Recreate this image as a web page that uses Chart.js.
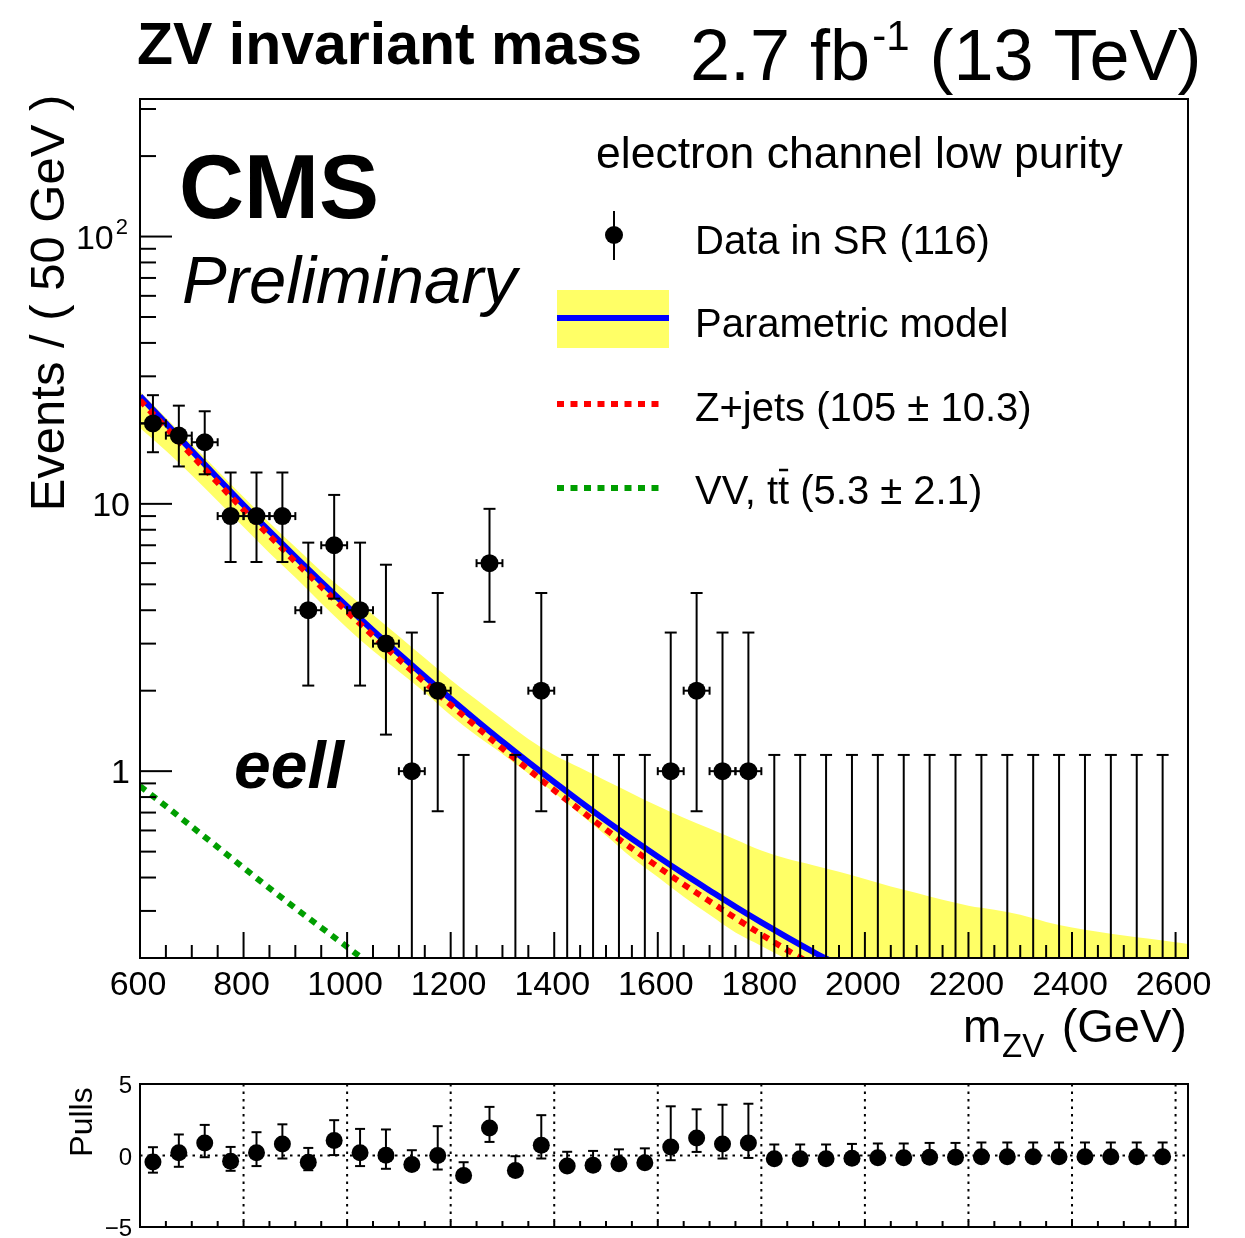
<!DOCTYPE html>
<html>
<head>
<meta charset="utf-8">
<title>ZV invariant mass</title>
<script src="https://cdn.jsdelivr.net/npm/chart.js@4.4.0/dist/chart.umd.min.js"></script>
<style>
  body { margin: 0; background: #fff; }
  #wrap { position: relative; width: 1245px; height: 1238px; overflow: hidden; background: #fff; }
  canvas { position: absolute; left: 0; }
</style>
</head>
<body>
<div id="wrap">
  <canvas id="mainChart" width="1245" height="1060" style="top:0"></canvas>
  <canvas id="pullChart" width="1245" height="178" style="top:1060px"></canvas>
</div>
<script>
// データ (GeV, events / 50 GeV)
const binCenters = [625, 675, 725, 775, 825, 875, 925, 975, 1025, 1075,
  1125, 1175, 1225, 1275, 1325, 1375, 1425, 1475, 1525, 1575,
  1625, 1675, 1725, 1775, 1825, 1875, 1925, 1975, 2025, 2075,
  2125, 2175, 2225, 2275, 2325, 2375, 2425, 2475, 2525, 2575];
const counts = [20, 18, 17, 9, 9, 9, 4, 7, 4, 3,
  1, 2, 0, 6, 0, 2, 0, 0, 0, 0,
  1, 2, 1, 1, 0, 0, 0, 0, 0, 0,
  0, 0, 0, 0, 0, 0, 0, 0, 0, 0];
// error bar ends
const errLow = [15.6, 13.8, 12.9, 6.06, 6.06, 6.06, 2.09, 4.42, 2.09, 1.37,
  0.173, 0.708, 0, 3.62, 0, 0.708, 0, 0, 0, 0,
  0.173, 0.708, 0.173, 0.173, 0, 0, 0, 0, 0, 0,
  0, 0, 0, 0, 0, 0, 0, 0, 0, 0];
const errHigh = [25.5, 23.3, 22.2, 13.1, 13.1, 13.1, 7.16, 10.8, 7.16, 5.92,
  3.30, 4.64, 1.15, 9.58, 1.15, 4.64, 1.15, 1.15, 1.15, 1.15,
  3.30, 4.64, 3.30, 3.30, 1.15, 1.15, 1.15, 1.15, 1.15, 1.15,
  1.15, 1.15, 1.15, 1.15, 1.15, 1.15, 1.15, 1.15, 1.15, 1.15];

// fit curves
const curveMass = [600, 650, 700, 750, 800, 850, 900, 950, 1000, 1050,
  1100, 1150, 1200, 1250, 1300, 1350, 1400, 1450, 1500, 1550,
  1600, 1650, 1700, 1750, 1800, 1850, 1900, 1950, 2000];
const modelTotal = [25.3, 20.0, 15.8, 12.5, 9.9, 7.9, 6.33, 5.1, 4.13, 3.36,
  2.75, 2.26, 1.865, 1.547, 1.289, 1.08, 0.909, 0.769, 0.653, 0.558,
  0.479, 0.413, 0.358, 0.311, 0.272, 0.239, 0.211, 0.1875, 0.166];
const zjets = [24.4, 19.3, 15.2, 12.0, 9.5, 7.6, 6.07, 4.89, 3.95, 3.21,
  2.62, 2.15, 1.77, 1.465, 1.215, 1.014, 0.848, 0.715, 0.604, 0.514,
  0.439, 0.377, 0.326, 0.282, 0.245, 0.214, 0.188, 0.165, 0.146];
const vvMass = [600, 650, 700, 750, 800, 850, 900, 950, 1000, 1050, 1100];
const vvTT = [0.88, 0.74, 0.62, 0.52, 0.435, 0.365, 0.307, 0.26, 0.22, 0.186, 0.158];

// uncertainty band
const bandMass = [600, 650, 700, 750, 800, 850, 900, 950, 1000, 1050,
  1100, 1150, 1200, 1250, 1300, 1350, 1400, 1450, 1500, 1550,
  1600, 1650, 1700, 1750, 1800, 1850, 1900, 1950, 2000, 2050,
  2100, 2150, 2200, 2250, 2300, 2350, 2400, 2450, 2500, 2550,
  2600, 2650];
const bandHigh = [26.3, 21.0, 16.7, 13.3, 10.6, 8.5, 6.9, 5.6, 4.65, 3.85,
  3.2, 2.65, 2.2, 1.85, 1.56, 1.32, 1.15, 1.03, 0.92, 0.825,
  0.74, 0.67, 0.61, 0.555, 0.505, 0.47, 0.445, 0.42, 0.395, 0.37,
  0.35, 0.33, 0.314, 0.303, 0.29, 0.273, 0.26, 0.251, 0.243, 0.236,
  0.229, 0.222];
const bandLow = [19.2, 15.8, 12.8, 10.25, 8.2, 6.55, 5.3, 4.25, 3.43, 2.82,
  2.36, 1.97, 1.62, 1.36, 1.16, 0.98, 0.83, 0.69, 0.575, 0.474,
  0.402, 0.339, 0.29, 0.249, 0.222, 0.197, 0.169, 0.15, 0.15, 0.15,
  0.15, 0.15, 0.15, 0.15, 0.15, 0.15, 0.15, 0.15, 0.15, 0.15,
  0.15, 0.15];

// pulls
const pulls = [-0.45, 0.19, 0.88, -0.40, 0.19, 0.81, -0.47, 1.05, 0.19, 0.02,
  -0.63, 0.0, -1.40, 1.93, -1.05, 0.72, -0.74, -0.68, -0.57, -0.50,
  0.60, 1.23, 0.81, 0.88, -0.23, -0.23, -0.23, -0.19, -0.16, -0.16,
  -0.12, -0.12, -0.09, -0.09, -0.09, -0.09, -0.09, -0.09, -0.09, -0.09];
const pullUp = [1.03, 1.28, 1.26, 1.0, 1.44, 1.37, 1.0, 1.42, 1.67, 1.8,
  1.0, 2.05, 0.93, 1.47, 1.0, 2.1, 1.0, 1.0, 1.0, 1.0,
  2.84, 2.0, 2.74, 2.74, 1.0, 1.0, 1.0, 1.0, 1.0, 1.0,
  1.0, 1.0, 1.0, 1.0, 1.0, 1.0, 1.0, 1.0, 1.0, 1.0];
const pullDown = [0.75, 0.98, 1.0, 0.67, 0.93, 1.02, 0.56, 1.02, 0.93, 0.95,
  0.36, 0.98, 0, 0.98, 0, 0.93, 0, 0, 0, 0,
  0.93, 0.98, 1.02, 1.05, 0, 0, 0, 0, 0, 0,
  0, 0, 0, 0, 0, 0, 0, 0, 0, 0];

// 軸
const xTickLabels = [600, 800, 1000, 1200, 1400, 1600, 1800, 2000, 2200, 2400, 2600];
const yTickLabels = [1, 10, 100];
const pullTickLabels = [5, 0, -5];

const FONT = '"Liberation Sans", Arial, Helvetica, sans-serif';
const YELLOW = '#ffff66';
const BLUE = '#0000ff';
const RED = '#ff0000';
const GREEN = '#009e00';
const DOT = [7, 6.5];

function seg(ctx, x1, y1, x2, y2) {
  ctx.beginPath(); ctx.moveTo(x1, y1); ctx.lineTo(x2, y2); ctx.stroke();
}
function pts(xs, ys) { return xs.map((m, i) => ({ x: m, y: ys[i] })); }

// エラーバーとフレーム (main)
const mainDecor = {
  id: 'mainDecor',
  beforeDatasetDraw(chart, args) {
    if (args.index !== 0) return;
    const { ctx, chartArea: a, scales: { x, y } } = chart;
    ctx.save();
    ctx.beginPath(); ctx.rect(a.left, a.top, a.right - a.left, a.bottom - a.top); ctx.clip();
    ctx.strokeStyle = '#000'; ctx.lineWidth = 2;
    binCenters.forEach((m, i) => {
      const px = x.getPixelForValue(m);
      const top = y.getPixelForValue(errHigh[i]);
      const bot = errLow[i] > 0 ? y.getPixelForValue(errLow[i]) : a.bottom + 5;
      seg(ctx, px, bot, px, top);
      seg(ctx, px - 6, top, px + 6, top);
      if (errLow[i] > 0) seg(ctx, px - 6, bot, px + 6, bot);
      if (counts[i] > 0) {
        const py = y.getPixelForValue(counts[i]);
        const xl = x.getPixelForValue(m - 25), xr = x.getPixelForValue(m + 25);
        seg(ctx, xl, py, xr, py);
        seg(ctx, xl, py - 4, xl, py + 4);
        seg(ctx, xr, py - 4, xr, py + 4);
      }
    });
    ctx.restore();
  },
  afterDraw(chart) {
    const { ctx, chartArea: a, scales: { x, y } } = chart;
    ctx.save();
    ctx.strokeStyle = '#000'; ctx.fillStyle = '#000'; ctx.lineWidth = 2;
    ctx.strokeRect(a.left, a.top, a.right - a.left, a.bottom - a.top);

    // x ticks
    for (let m = 650; m <= 2600; m += 50) {
      const px = x.getPixelForValue(m);
      seg(ctx, px, a.bottom, px, a.bottom - (m % 200 === 0 ? 26 : 13));
    }
    // y ticks
    [0.1, 1, 10, 100].forEach(dec => {
      for (let k = 1; k <= 9; k++) {
        const v = k * dec;
        if (v < y.min || v > y.max) continue;
        const py = y.getPixelForValue(v);
        seg(ctx, a.left, py, a.left + (k === 1 ? 32 : 16), py);
      }
    });

    // tick labels
    ctx.font = '34px ' + FONT;
    ctx.textAlign = 'center'; ctx.textBaseline = 'alphabetic';
    xTickLabels.forEach(v => ctx.fillText(String(v), x.getPixelForValue(v) - 2, a.bottom + 37));
    ctx.textAlign = 'right';
    yTickLabels.forEach(v => {
      const py = y.getPixelForValue(v);
      if (v === 100) {
        ctx.font = '22px ' + FONT;
        const w = ctx.measureText('2').width;
        ctx.fillText('2', a.left - 12, py - 3);
        ctx.font = '34px ' + FONT;
        ctx.fillText('10', a.left - 14 - w, py + 12);
      } else {
        ctx.fillText(String(v), a.left - 10, py + 12);
      }
    });

    // axis titles
    ctx.save();
    ctx.translate(64, 303); ctx.rotate(-Math.PI / 2);
    ctx.textAlign = 'center'; ctx.font = '49px ' + FONT;
    ctx.fillText('Events / ( 50 GeV )', 0, 0);
    ctx.restore();
    ctx.textAlign = 'left';
    ctx.font = '46px ' + FONT;
    ctx.fillText('m', 963, 1042);
    ctx.font = '33px ' + FONT;
    ctx.fillText('ZV', 1002, 1057);
    ctx.font = '47px ' + FONT;
    ctx.textAlign = 'right';
    ctx.fillText('(GeV)', 1187, 1042);
    ctx.textAlign = 'left';

    // header
    ctx.font = 'bold 59px ' + FONT;
    ctx.fillText('ZV invariant mass', 137, 64);
    ctx.font = '72px ' + FONT;
    let hx = 690;
    ctx.fillText('2.7 fb', hx, 80);
    hx += ctx.measureText('2.7 fb').width + 2;
    ctx.font = '42px ' + FONT;
    ctx.fillText('-1', hx, 50);
    hx += ctx.measureText('-1').width;
    ctx.font = '72px ' + FONT;
    ctx.fillText(' (13 TeV)', hx, 80);

    // CMS labels
    ctx.font = 'bold 90px ' + FONT;
    ctx.fillText('CMS', 179, 218);
    ctx.font = 'italic 67px ' + FONT;
    ctx.fillText('Preliminary', 182, 303);
    ctx.font = 'italic bold 66px ' + FONT;
    ctx.fillText('eell', 234, 788);

    // 凡例
    ctx.font = '44.5px ' + FONT;
    ctx.fillText('electron channel low purity', 596, 168);
    ctx.font = '40px ' + FONT;
    const lx = 695;
    // data
    seg(ctx, 614, 211, 614, 260);
    ctx.beginPath(); ctx.arc(614, 235, 9, 0, Math.PI * 2); ctx.fill();
    ctx.fillText('Data in SR (116)', lx, 254);
    // model
    ctx.fillStyle = YELLOW; ctx.fillRect(557, 290, 112, 58);
    ctx.strokeStyle = BLUE; ctx.lineWidth = 6; seg(ctx, 557, 318, 669, 318);
    ctx.fillStyle = '#000';
    ctx.fillText('Parametric model', lx, 337);
    // z+jets, VV
    ctx.setLineDash(DOT);
    ctx.strokeStyle = RED; seg(ctx, 557, 404, 665, 404);
    ctx.strokeStyle = GREEN; seg(ctx, 557, 488, 665, 488);
    ctx.setLineDash([]);
    ctx.fillText('Z+jets (105 \u00b1 10.3)', lx, 421);
    const pre = 'VV, t';
    ctx.fillText(pre + 't (5.3 \u00b1 2.1)', lx, 504);
    const tl = lx + ctx.measureText(pre).width;
    const tw = ctx.measureText('t').width;
    ctx.strokeStyle = '#000'; ctx.lineWidth = 2.5;
    seg(ctx, tl + 1, 470, tl + tw - 1, 470);
    ctx.restore();
  }
};

const pullDecor = {
  id: 'pullDecor',
  beforeDatasetsDraw(chart) {
    const { ctx, chartArea: a, scales: { x, y } } = chart;
    ctx.save();
    ctx.strokeStyle = '#000'; ctx.lineWidth = 2; ctx.setLineDash([2.5, 5]);
    for (let m = 800; m <= 2600; m += 200) {
      const px = x.getPixelForValue(m);
      seg(ctx, px, a.top, px, a.bottom);
    }
    const y0 = y.getPixelForValue(0);
    seg(ctx, a.left, y0, a.right, y0);
    ctx.restore();
  },
  beforeDatasetDraw(chart, args) {
    if (args.index !== 0) return;
    const { ctx, scales: { x, y } } = chart;
    ctx.save();
    ctx.strokeStyle = '#000'; ctx.lineWidth = 2;
    binCenters.forEach((m, i) => {
      const px = x.getPixelForValue(m);
      const top = y.getPixelForValue(pulls[i] + pullUp[i]);
      const bot = y.getPixelForValue(pulls[i] - pullDown[i]);
      seg(ctx, px, bot, px, top);
      seg(ctx, px - 5, top, px + 5, top);
      if (pullDown[i] > 0) seg(ctx, px - 5, bot, px + 5, bot);
    });
    ctx.restore();
  },
  afterDraw(chart) {
    const { ctx, chartArea: a, scales: { x, y } } = chart;
    ctx.save();
    ctx.strokeStyle = '#000'; ctx.fillStyle = '#000'; ctx.lineWidth = 2;
    ctx.strokeRect(a.left, a.top, a.right - a.left, a.bottom - a.top);
    for (let m = 650; m <= 2600; m += 50) {
      const px = x.getPixelForValue(m);
      seg(ctx, px, a.bottom, px, a.bottom - 6);
    }
    ctx.font = '24px ' + FONT;
    ctx.textAlign = 'right';
    pullTickLabels.forEach(v => {
      const txt = v < 0 ? '\u2212' + Math.abs(v) : String(v);
      ctx.fillText(txt, a.left - 8, y.getPixelForValue(v) + 9);
    });
    ctx.save();
    ctx.translate(92, 62); ctx.rotate(-Math.PI / 2);
    ctx.textAlign = 'center'; ctx.font = '32px ' + FONT;
    ctx.fillText('Pulls', 0, 0);
    ctx.restore();
    ctx.restore();
  }
};

const common = {
  responsive: false,
  animation: false,
  devicePixelRatio: 1,
  events: [],
  plugins: { legend: { display: false }, tooltip: { enabled: false } }
};

new Chart(document.getElementById('mainChart'), {
  type: 'line',
  data: {
    datasets: [
      {
        label: 'Data in SR',
        data: binCenters.map((m, i) => ({ x: m, y: counts[i] > 0 ? counts[i] : null })),
        showLine: false, pointRadius: 9, pointBackgroundColor: '#000',
        pointBorderWidth: 0, borderColor: '#000', order: 0
      },
      {
        label: 'Z+jets', data: pts(curveMass, zjets),
        borderColor: RED, borderWidth: 6, borderDash: DOT, pointRadius: 0,
        cubicInterpolationMode: 'monotone', fill: false, order: 1
      },
      {
        label: 'Parametric model', data: pts(curveMass, modelTotal),
        borderColor: BLUE, borderWidth: 6, pointRadius: 0,
        cubicInterpolationMode: 'monotone', fill: false, order: 2
      },
      {
        label: 'VV, tt', data: pts(vvMass, vvTT),
        borderColor: GREEN, borderWidth: 6, borderDash: DOT, pointRadius: 0,
        fill: false, order: 3
      },
      {
        label: 'band high', data: pts(bandMass, bandHigh),
        borderWidth: 0, borderColor: 'rgba(0,0,0,0)', pointRadius: 0,
        backgroundColor: YELLOW, fill: '+1', cubicInterpolationMode: 'monotone', order: 4
      },
      {
        label: 'band low', data: pts(bandMass, bandLow),
        borderWidth: 0, borderColor: 'rgba(0,0,0,0)', pointRadius: 0,
        fill: false, cubicInterpolationMode: 'monotone', order: 5
      }
    ]
  },
  options: {
    ...common,
    layout: { padding: { left: 140, right: 57, top: 99, bottom: 102 } },
    scales: {
      x: { type: 'linear', min: 600, max: 2624, display: false },
      y: { type: 'logarithmic', min: 0.2, max: 327, display: false }
    }
  },
  plugins: [mainDecor]
});

new Chart(document.getElementById('pullChart'), {
  type: 'line',
  data: {
    datasets: [{
      label: 'Pulls',
      data: pts(binCenters, pulls),
      showLine: false, pointRadius: 8.5, pointBackgroundColor: '#000',
      pointBorderWidth: 0, borderColor: '#000'
    }]
  },
  options: {
    ...common,
    layout: { padding: { left: 140, right: 57, top: 24, bottom: 11 } },
    scales: {
      x: { type: 'linear', min: 600, max: 2624, display: false },
      y: { type: 'linear', min: -5, max: 5, display: false }
    }
  },
  plugins: [pullDecor]
});
</script>
</body>
</html>
